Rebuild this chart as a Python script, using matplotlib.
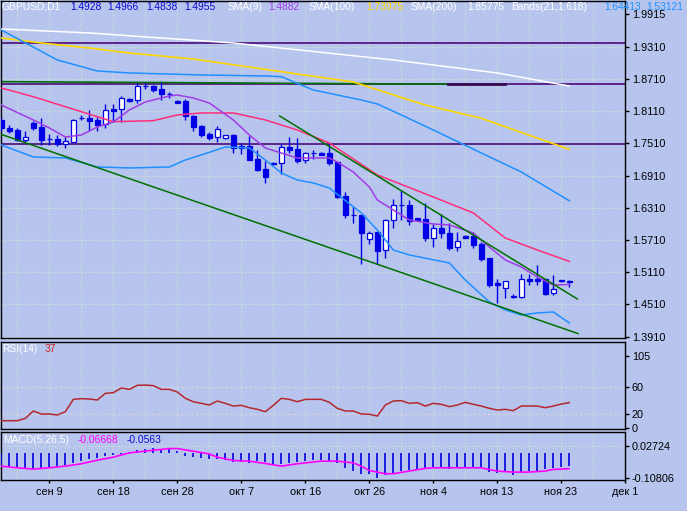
import numpy as np
import matplotlib.pyplot as plt

plt.rcParams['font.family'] = ['Liberation Sans', 'DejaVu Sans']

W, H = 687, 511
BG = '#b7c5ee'
BLUE = '#0000e6'

# ---- GBPUSD D1 candles (bar 0 .. 71) ----
opens = [1.7946, 1.7802, 1.7759, 1.7579, 1.7895, 1.7815, 1.7586, 1.7592, 1.7499, 1.7542,
         1.7988, 1.7977, 1.7940, 1.7871, 1.8150, 1.8145, 1.8337, 1.8318, 1.8579, 1.8579,
         1.8517, 1.8424, 1.8305, 1.8299, 1.8020, 1.7840, 1.7685, 1.7624, 1.7605, 1.7666,
         1.7419, 1.7462, 1.7219, 1.7028, 1.7145, 1.7139, 1.7439, 1.7400, 1.7195, 1.7326,
         1.7337, 1.7326, 1.7169, 1.6531, 1.6177, 1.6177, 1.5724, 1.5855, 1.5525, 1.6084,
         1.6357, 1.6363, 1.6115, 1.6102, 1.5754, 1.5935, 1.5836, 1.5572, 1.5786, 1.5786,
         1.5637, 1.5376, 1.4905, 1.4812, 1.4674, 1.4644, 1.4985, 1.4979, 1.4979, 1.4719,
         1.4957, 1.4928]
highs = [1.7983, 1.7853, 1.7797, 1.7741, 1.7927, 1.7988, 1.7685, 1.7666, 1.7624, 1.7955,
         1.8039, 1.8132, 1.7996, 1.8249, 1.8249, 1.8392, 1.8361, 1.8629, 1.8629, 1.8603,
         1.8659, 1.8473, 1.8318, 1.8342, 1.8039, 1.7853, 1.7728, 1.7834, 1.7666, 1.7685,
         1.7512, 1.7648, 1.7387, 1.7188, 1.7164, 1.7523, 1.7629, 1.7605, 1.7355, 1.7387,
         1.7343, 1.7512, 1.7182, 1.6611, 1.6344, 1.6180, 1.5884, 1.5866, 1.6102, 1.6475,
         1.6642, 1.6456, 1.6125, 1.6395, 1.6009, 1.6190, 1.6022, 1.5866, 1.5795, 1.5860,
         1.5680, 1.5380, 1.4979, 1.4948, 1.4706, 1.5073, 1.5078, 1.5240, 1.4985, 1.5054,
         1.4966, 1.4966]
lows = [1.7741, 1.7704, 1.7560, 1.7530, 1.7759, 1.7480, 1.7480, 1.7462, 1.7430, 1.7536,
        1.7946, 1.7741, 1.7741, 1.7791, 1.7908, 1.7914, 1.8286, 1.8257, 1.8517, 1.8461,
        1.8318, 1.8361, 1.8262, 1.7946, 1.7746, 1.7624, 1.7573, 1.7542, 1.7599, 1.7326,
        1.7313, 1.7195, 1.6996, 1.6778, 1.7098, 1.6935, 1.7326, 1.7139, 1.7151, 1.7214,
        1.7294, 1.7102, 1.6499, 1.6115, 1.6033, 1.5259, 1.5637, 1.5259, 1.5382, 1.5929,
        1.6084, 1.5991, 1.6078, 1.5698, 1.5586, 1.5743, 1.5525, 1.5512, 1.5740, 1.5553,
        1.5320, 1.4831, 1.4544, 1.4637, 1.4640, 1.4640, 1.4879, 1.4873, 1.4687, 1.4682,
        1.4930, 1.4838]
closes = [1.7797, 1.7746, 1.7573, 1.7629, 1.7802, 1.7573, 1.7586, 1.7493, 1.7555, 1.7946,
          1.7988, 1.7927, 1.7853, 1.8126, 1.8113, 1.8350, 1.8305, 1.8579, 1.8579, 1.8504,
          1.8424, 1.8424, 1.8268, 1.8020, 1.7821, 1.7666, 1.7616, 1.7772, 1.7661, 1.7430,
          1.7456, 1.7201, 1.7015, 1.6879, 1.7121, 1.7437, 1.7393, 1.7182, 1.7326, 1.7326,
          1.7300, 1.7151, 1.6517, 1.6177, 1.6177, 1.5847, 1.5847, 1.5512, 1.6084, 1.6357,
          1.6357, 1.6071, 1.6084, 1.5754, 1.5935, 1.5836, 1.5562, 1.5687, 1.5748, 1.5618,
          1.5357, 1.4873, 1.4879, 1.4942, 1.4644, 1.4979, 1.4942, 1.4948, 1.4711, 1.4799,
          1.4940, 1.4955]

# ---- moving averages / bands, read at bar positions ----
sma200_idx = [0, 11, 29, 49, 55, 62, 68, 71]
sma200 = [1.9640, 1.9566, 1.9379, 1.9063, 1.8951, 1.8821, 1.8659, 1.8578]

sma100_idx = [0, 5, 11, 16, 24, 35, 44, 51, 53, 60, 71]
sma100 = [1.9472, 1.9379, 1.9286, 1.9193, 1.9081, 1.8845, 1.8653, 1.8318, 1.8225, 1.7977, 1.7398]

upper_idx = [0, 7, 12, 16, 25, 33, 35, 39, 45, 47, 50, 54, 60, 65, 71]
upper = [1.9621, 1.9063, 1.8858, 1.8821, 1.8784, 1.8765, 1.8752, 1.8504, 1.8318, 1.8244,
         1.8039, 1.7759, 1.7331, 1.6977, 1.6441]

middle_idx = [0, 4, 8, 12, 14, 19, 22, 25, 29, 33, 37, 41, 47, 54, 59, 63, 67, 71]
middle = [1.8541, 1.8379, 1.8193, 1.8007, 1.7914, 1.7933, 1.8039, 1.8076, 1.8076, 1.7946,
          1.7759, 1.7517, 1.6922, 1.6512, 1.6214, 1.5748, 1.5525, 1.5312]

lower_idx = [0, 4, 8, 12, 16, 21, 23, 25, 28, 31, 33, 35, 37, 39, 41, 45, 47, 49, 51, 56,
             58, 61, 63, 65, 67, 69, 71]
lower = [1.7480, 1.7257, 1.7238, 1.7070, 1.7052, 1.7070, 1.7201, 1.7294, 1.7443, 1.7424,
         1.7201, 1.6959, 1.6828, 1.6773, 1.6679, 1.6214, 1.5897, 1.5525, 1.5432, 1.5283,
         1.4966, 1.4557, 1.4408, 1.4315, 1.4352, 1.4371, 1.4166]

sma9_idx = [0, 4, 6, 8, 10, 12, 14, 16, 18, 21, 22, 24, 26, 29, 31, 33, 35, 37, 41, 42,
            44, 46, 47, 49, 51, 54, 56, 59, 61, 63, 65, 67, 69, 71]
sma9 = [1.8225, 1.7946, 1.7797, 1.7629, 1.7666, 1.7815, 1.7908, 1.8132, 1.8281, 1.8392,
        1.8411, 1.8355, 1.8262, 1.7946, 1.7666, 1.7424, 1.7331, 1.7238, 1.7238, 1.7164,
        1.6977, 1.6698, 1.6456, 1.6270, 1.6084, 1.6009, 1.5991, 1.5842, 1.5581, 1.5339,
        1.5208, 1.5022, 1.4873, 1.4882]

# drawn objects
hlines_price = [1.9370, 1.8612, 1.7495]
green_flat = ([0, 55.8], [1.8659, 1.8612])
trend_low = ([0, 72.1], [1.7677, 1.3968])
trend_high = ([34.8, 72.0], [1.8020, 1.4613])

price_ticks = [1.9915, 1.9310, 1.8710, 1.8110, 1.7510, 1.6910, 1.6310, 1.5710, 1.5110, 1.4510, 1.3910]

# ---- RSI(14) ----
rsi = [10.6, 10.6, 10.6, 14.0, 24.7, 20.3, 20.3, 18.9, 23.7, 41.6,
       42.6, 42.1, 40.7, 50.3, 51.3, 58.1, 56.1, 62.0, 62.4, 61.5,
       56.1, 56.1, 52.3, 43.1, 38.2, 35.8, 33.4, 39.2, 35.8, 31.9,
       32.9, 29.5, 27.1, 23.7, 32.9, 43.1, 41.6, 38.2, 41.6, 41.6,
       41.6, 37.3, 28.6, 24.7, 24.7, 20.3, 19.9, 17.4, 33.4, 39.2,
       39.7, 35.8, 36.8, 31.9, 35.8, 34.4, 31.0, 33.4, 37.3, 34.4,
       31.9, 28.6, 26.1, 27.1, 25.2, 31.9, 31.9, 31.9, 29.5, 31.9,
       34.8, 37.0]

# ---- MACD(5,26,5) ----
macd_hist = [-0.0601, -0.0587, -0.0629, -0.0656, -0.0684, -0.0684, -0.0656, -0.0601, -0.0531, -0.0447,
             -0.0349, -0.0279, -0.0210, -0.0140, -0.0070, -0.0042, 0.0028, 0.0112, 0.0182, 0.0209,
             0.0182, 0.0154, 0.0070, -0.0140, -0.0182, -0.0237, -0.0279, -0.0251, -0.0321, -0.0391,
             -0.0391, -0.0419, -0.0349, -0.0391, -0.0531, -0.0489, -0.0447, -0.0391, -0.0349, -0.0321,
             -0.0307, -0.0349, -0.0419, -0.0656, -0.0768, -0.0908, -0.0880, -0.1047, -0.0950, -0.0838,
             -0.0768, -0.0726, -0.0698, -0.0629, -0.0587, -0.0629, -0.0698, -0.0629, -0.0601, -0.0629,
             -0.0601, -0.0810, -0.0866, -0.0810, -0.0936, -0.0810, -0.0768, -0.0768, -0.0698, -0.0629,
             -0.0601, -0.0563]
signal_idx = [0, 2, 4, 6, 8, 10, 12, 14, 16, 19, 21, 22, 24, 26, 27, 29, 31, 33, 35, 37,
              40, 42, 44, 45, 46, 48, 49, 51, 53, 54, 60, 62, 64, 66, 68, 69, 71]
signal = [-0.0559, -0.0629, -0.0684, -0.0629, -0.0559, -0.0461, -0.0307, -0.0182, 0.0000, 0.0112,
          0.0182, 0.0182, 0.0070, -0.0042, -0.0182, -0.0321, -0.0349, -0.0447, -0.0559, -0.0461,
          -0.0349, -0.0349, -0.0419, -0.0559, -0.0740, -0.0880, -0.0880, -0.0768, -0.0656, -0.0629,
          -0.0629, -0.0768, -0.0810, -0.0810, -0.0768, -0.0698, -0.0667]

date_idx = [6, 14, 22, 30, 38, 46, 54, 62, 70, 78]
date_labels = ['сен 9', 'сен 18', 'сен 28', 'окт 7', 'окт 16', 'окт 26', 'ноя 4', 'ноя 13', 'ноя 23', 'дек 1']
grid_idx = list(range(2, 79, 4))


def box(l, t, r, b):
    return [l / W, 1 - b / H, (r - l) / W, (b - t) / H]


fig = plt.figure(figsize=(W / 100, H / 100), dpi=100, facecolor=BG)
ax = fig.add_axes(box(1, 1, 625, 338))
ax_rsi = fig.add_axes(box(1, 342, 625, 429))
ax_macd = fig.add_axes(box(1, 432, 625, 480))

GRID = dict(color='#c9dedc', lw=0.8, ls=(0, (1.5, 1.5)), zorder=1)
for a in (ax, ax_rsi, ax_macd):
    a.set_facecolor(BG)
    a.set_xlim(-0.04, 77.96)
    for s in a.spines.values():
        s.set_color('black')
        s.set_linewidth(1)
    a.yaxis.tick_right()
    a.tick_params(axis='y', length=3, width=1, pad=2, labelsize=7.8, colors='black')
    a.tick_params(axis='x', bottom=False, labelbottom=False)
    for g in grid_idx:
        a.axvline(g, **GRID)

# ---- main price pane ----
ax.set_ylim(1.3886, 2.0161)
for p in price_ticks[1:]:
    ax.axhline(p, **GRID)
ax.set_yticks(price_ticks)
ax.set_yticklabels([f'{p:.4f}' for p in price_ticks])

o, h, l, c = map(np.array, (opens, highs, lows, closes))
x = np.arange(len(o))
bull = c >= o
ax.vlines(x, l, h, color=BLUE, lw=1, zorder=3)
ax.bar(x, np.abs(c - o), bottom=np.minimum(o, c), width=0.62,
       color=np.where(bull, 'white', BLUE), edgecolor=BLUE, linewidth=0.9, zorder=4)

for p in hlines_price:
    ax.axhline(p, color='#4b0a78', lw=1.2, zorder=2)
ax.plot(*green_flat, color='#007000', lw=1.2, zorder=2)
ax.plot([55.8, 63], [1.8612, 1.8612], color='#3a0a50', lw=2, zorder=2)

ax.plot(sma200_idx, sma200, color='white', lw=1.1, zorder=5)
ax.plot(sma100_idx, sma100, color='#ffd700', lw=1.2, zorder=5)
ax.plot(upper_idx, upper, color='#1e90ff', lw=1.1, zorder=5)
ax.plot(lower_idx, lower, color='#1e90ff', lw=1.1, zorder=5)
ax.plot(middle_idx, middle, color='#ff2d7a', lw=1.1, zorder=5)
ax.plot(sma9_idx, sma9, color='#a03ce6', lw=1.1, zorder=5)
ax.plot(*trend_low, color='#007000', lw=1.1, zorder=5)
ax.plot(*trend_high, color='#007000', lw=1.1, zorder=5)

# ---- RSI pane ----
ax_rsi.set_ylim(-1.45, 124.9)
ax_rsi.set_yticks([0, 20, 60, 105])
ax_rsi.set_yticklabels(['0', '20', '60', '105'])
for lv in (20, 60):
    ax_rsi.axhline(lv, color='#d4d4dc', lw=1, ls=(0, (2, 1.5)), zorder=2)
ax_rsi.plot(x, rsi, color='#b4282d', lw=1.1, zorder=4)

# ---- MACD pane ----
ax_macd.set_ylim(-0.1144, 0.0880)
ax_macd.set_yticks([0.02724, -0.10806])
ax_macd.set_yticklabels(['0.02724', '-0.10806'])
ax_macd.axhline(0.02724, **GRID)
ax_macd.vlines(x, 0, macd_hist, color=BLUE, lw=1.2, zorder=3)
ax_macd.plot(signal_idx, signal, color='#ff00ff', lw=1.2, zorder=4)
ax_macd.set_xticks(date_idx)
ax_macd.set_xticklabels(date_labels)
ax_macd.tick_params(axis='x', bottom=True, labelbottom=True, length=2.5, width=1,
                    pad=2.5, labelsize=7.8, colors='black')

# ---- pane headers ----
def label(px, py, s, col, size=7.4):
    fig.text(px / W, 1 - py / H, s, color=col, fontsize=size, ha='left', va='center', zorder=10)


header = [(2, 'GBPUSD,D1', 'white'), (70, '1.4928', '#0a0ad2'), (107.5, '1.4966', '#0a0ad2'),
          (146, '1.4838', '#0a0ad2'), (184, '1.4955', '#0a0ad2'), (228, 'SMA(9)', 'white'),
          (268, '1.4882', '#a03ce6'), (309, 'SMA(100)', 'white'), (366.5, '1.73975', '#ffd700'),
          (411, 'SMA(200)', 'white'), (467.5, '1.85775', 'white'), (511.5, 'Bands(21,1.618)', 'white'),
          (604, '1.64413', '#1e90ff'), (646, '1.53121', '#1e90ff')]
for px, s, col in header:
    label(px, 6.5, s, col)

label(2, 348.5, 'RSI(14)', 'white')
label(45, 348.5, '37', '#c81e1e')
label(3, 439.5, 'MACD(5,26,5)', 'white')
label(78, 439.5, '-0.06668', '#ff00ff')
label(127, 439.5, '-0.0563', '#0a0ad2')

fig.savefig('out.png', dpi=100, facecolor=BG)
